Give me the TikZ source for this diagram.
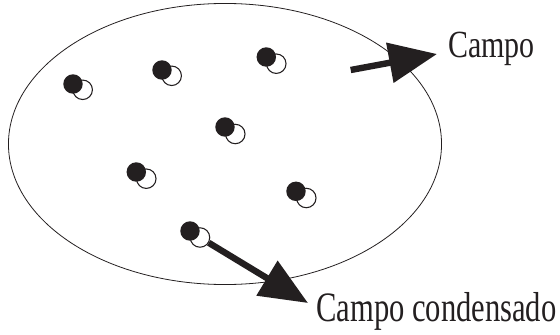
\documentclass[tikz,border=0pt]{standalone}
\usepackage{tikz}
\usetikzlibrary{positioning,arrows.meta}
\usepackage{xcolor}
\usepackage{fontspec}
\setmainfont{Liberation Serif}
\definecolor{ink}{RGB}{35,31,32}

\begin{document}
\begin{tikzpicture}[
  x=0.75pt, y=-0.75pt,
  ball/.style={circle, fill=ink, minimum size=14.6pt, inner sep=0pt},
  ring/.style={circle, draw=ink, fill=white, line width=0.8pt, minimum size=14.6pt, inner sep=0pt},
  arr/.style={-{Triangle[length=36pt, width=29.5pt]}, line width=4.8pt, draw=ink, fill=ink},
  lbl/.style={anchor=base west, inner sep=0pt, text=ink}
]
\useasboundingbox (0,0) rectangle (560,335);
\draw[draw=ink, line width=0.6pt] (225,144) ellipse [x radius=162.4pt, y radius=105.4pt];
\node[ring] (h1) at (82.7,89.8) {};
\node[ball] (d1) at (73,84) {};
\node[ring] (h2) at (171.7,75.8) {};
\node[ball] (d2) at (162,70) {};
\node[ring] (h3) at (276.3,63.7) {};
\node[ball] (d3) at (266.3,57) {};
\node[ring] (h4) at (235.3,134) {};
\node[ball] (d4) at (225,127) {};
\node[ring] (h5) at (146.3,178.7) {};
\node[ball] (d5) at (136.3,172) {};
\node[ring] (h6) at (306.3,198) {};
\node[ball] (d6) at (296,191.3) {};
\node[ring] (h7) at (200,237.5) {};
\node[ball] (d7) at (190,231) {};
\node[lbl] (campo) at (448,57.7) {\scalebox{0.78}[1]{\fontsize{28.8}{30}\selectfont Campo}};
\node[lbl] (cond) at (316,321.7) {\scalebox{0.73}[1]{\fontsize{31.4}{33}\selectfont Campo condensado}};
\coordinate (tailA) at (350.7,70);
\coordinate (tipA) at (437,54);
\coordinate (tipB) at (308,303);
\draw[arr] (tailA) -- (tipA);
\draw[arr] (h7) -- (tipB);
\end{tikzpicture}
\end{document}
